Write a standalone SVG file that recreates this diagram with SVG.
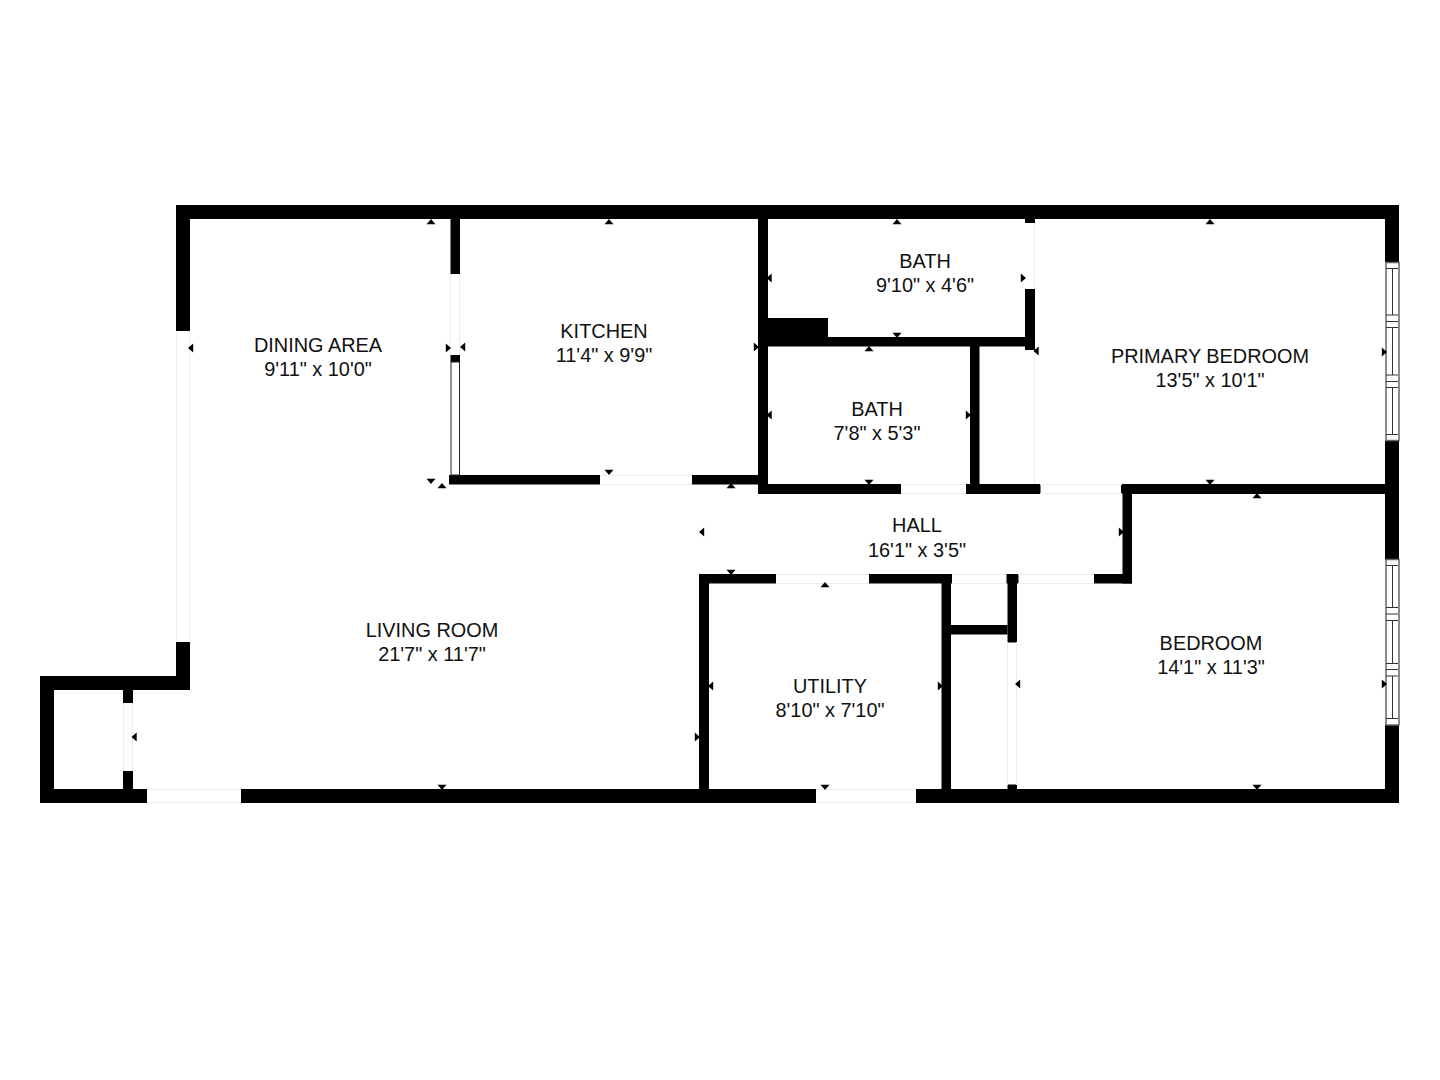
<svg xmlns="http://www.w3.org/2000/svg" width="1440" height="1080" viewBox="0 0 1440 1080">
<style>
.w{fill:#000}
.g{stroke:#ececec;stroke-width:1;fill:none}
.l{fill:#fff;stroke:#222;stroke-width:1}
.t{stroke:#333;stroke-width:1;fill:none}
.f{fill:#fff;stroke:#666;stroke-width:1.500}
text{font-family:"Liberation Sans",Arial,sans-serif;font-size:19.900px;fill:#111;text-anchor:middle}
</style>
<defs>
<polygon id="u" points="-4.500,2.200 4.500,2.200 0,-3" fill="#000"/>
<polygon id="d" points="-4.500,-2.200 4.500,-2.200 0,3" fill="#000"/>
<polygon id="L" points="2.200,-4.500 2.200,4.500 -3,0" fill="#000"/>
<polygon id="R" points="-2.200,-4.500 -2.200,4.500 3,0" fill="#000"/>
</defs>
<rect width="1440" height="1080" fill="#fff"/>
<g id="walls">
<rect class="w" x="176" y="205" width="1223" height="14"/>
<rect class="w" x="176" y="205" width="14" height="126"/>
<rect class="w" x="176" y="642" width="14" height="48"/>
<rect class="w" x="40" y="676" width="150" height="14"/>
<rect class="w" x="40" y="676" width="14" height="127"/>
<rect class="w" x="40" y="789" width="107" height="14"/>
<rect class="w" x="241" y="789" width="575" height="14"/>
<rect class="w" x="916" y="789" width="483" height="14"/>
<rect class="w" x="123" y="690" width="10" height="13"/>
<rect class="w" x="123" y="771" width="10" height="32"/>
<rect class="w" x="1385" y="205" width="14" height="57"/>
<rect class="w" x="1385" y="441" width="14" height="119"/>
<rect class="w" x="1385" y="725" width="14" height="78"/>
<rect class="w" x="450.500" y="219" width="9.500" height="55"/>
<rect class="w" x="450.500" y="355" width="9.500" height="7"/>
<rect class="w" x="449" y="475" width="151" height="9.500"/>
<rect class="w" x="692" y="475" width="68" height="9.500"/>
<rect class="w" x="758" y="219" width="10" height="275"/>
<rect class="w" x="758" y="484" width="143" height="10"/>
<rect class="w" x="966" y="484" width="74.500" height="10"/>
<rect class="w" x="1121" y="484" width="278" height="10"/>
<rect class="w" x="1122.500" y="484" width="9.500" height="99.500"/>
<rect class="w" x="699" y="574" width="77" height="9.500"/>
<rect class="w" x="869" y="574" width="83" height="9.500"/>
<rect class="w" x="1006.500" y="574" width="12" height="9.500"/>
<rect class="w" x="1094" y="574" width="38" height="9.500"/>
<rect class="w" x="699" y="574" width="10" height="229"/>
<rect class="w" x="941.500" y="574" width="9.500" height="229"/>
<rect class="w" x="1007.500" y="574" width="9.500" height="68.500"/>
<rect class="w" x="1007.500" y="784.500" width="9.500" height="18.500"/>
<rect class="w" x="951" y="625" width="56.500" height="9.500"/>
<rect class="w" x="1025" y="219" width="10" height="4"/>
<rect class="w" x="1025" y="289" width="10" height="61"/>
<rect class="w" x="768" y="337" width="267" height="9.500"/>
<rect class="w" x="768" y="318" width="60" height="19"/>
<rect class="w" x="970" y="346" width="9.500" height="146"/>
</g>
<g id="openings">
<path class="g" d="M176.500 331V642M189.500 331V642"/>
<path class="g" d="M147 789.500H241M147 802.500H241"/>
<path class="g" d="M816 789.500H916M816 802.500H916"/>
<path class="g" d="M123.500 703V771M132.500 703V771"/>
<path class="g" d="M450.500 274V355M459.500 274V355"/>
<path class="g" d="M600 475.500H692M600 484.500H692"/>
<path class="g" d="M901 484.500H966M901 493.500H966"/>
<path class="g" d="M1040 484.500H1122M1040 493.500H1122"/>
<path class="g" d="M776 574.500H869M776 583.500H869"/>
<path class="g" d="M952 574.500H1006M952 583.500H1006"/>
<path class="g" d="M1018 574.500H1094M1018 583.500H1094"/>
<path class="g" d="M1007.500 642V785M1016.500 642V785"/>
<path class="g" d="M1034.500 223V289M1034.500 350V484"/>
<rect class="l" x="451" y="362" width="8.500" height="113"/>
</g>
<g id="window-primary">
<rect class="f" x="1386" y="262.500" width="13" height="178"/>
<path class="t" d="M1386 268.500H1398M1386 315H1398M1386 321.500H1398M1386 327.500H1398M1386 375H1398M1386 381.500H1398M1386 387.500H1398M1386 434.500H1398M1392.500 268V315M1392.500 327V375M1392.500 387V434"/>
</g>
<g id="window-bedroom">
<rect class="f" x="1386" y="559.500" width="13" height="165.500"/>
<path class="t" d="M1386 565.500H1398M1386 607.500H1398M1386 614H1398M1386 620.500H1398M1386 663.500H1398M1386 669.500H1398M1386 676H1398M1386 718.500H1398M1392.500 565V607M1392.500 620V663M1392.500 676V718"/>
</g>
<g id="dimension-ticks">
<use href="#u" x="431" y="222"/>
<use href="#u" x="609" y="222"/>
<use href="#u" x="897" y="222"/>
<use href="#u" x="1210" y="222"/>
<use href="#L" x="191" y="348"/>
<use href="#R" x="448" y="348"/>
<use href="#L" x="463" y="347"/>
<use href="#R" x="756" y="347"/>
<use href="#L" x="769.500" y="278"/>
<use href="#R" x="1023" y="278"/>
<use href="#d" x="897" y="335"/>
<use href="#u" x="869" y="349"/>
<use href="#L" x="1036.500" y="351"/>
<use href="#L" x="769.500" y="415"/>
<use href="#R" x="968" y="415"/>
<use href="#d" x="869" y="482"/>
<use href="#d" x="1210" y="482"/>
<use href="#u" x="1257" y="496"/>
<use href="#R" x="1384" y="352"/>
<use href="#R" x="1384" y="684"/>
<use href="#d" x="431" y="481"/>
<use href="#u" x="442" y="486"/>
<use href="#d" x="609" y="472"/>
<use href="#u" x="731" y="486"/>
<use href="#L" x="702" y="532"/>
<use href="#R" x="1121" y="532"/>
<use href="#d" x="731" y="572"/>
<use href="#u" x="825" y="585"/>
<use href="#L" x="711" y="686"/>
<use href="#R" x="940" y="686"/>
<use href="#d" x="825" y="787"/>
<use href="#L" x="1018" y="684"/>
<use href="#d" x="1257" y="787"/>
<use href="#L" x="134.500" y="737"/>
<use href="#R" x="697" y="737"/>
<use href="#d" x="442" y="787"/>
</g>
<g id="labels">
<g id="dining"><text x="318" y="352">DINING AREA</text><text x="318" y="376">9'11" x 10'0"</text></g>
<g id="kitchen"><text x="604" y="338">KITCHEN</text><text x="604" y="362">11'4" x 9'9"</text></g>
<g id="bath1"><text x="925" y="268">BATH</text><text x="925" y="292">9'10" x 4'6"</text></g>
<g id="bath2"><text x="877" y="416">BATH</text><text x="877" y="440">7'8" x 5'3"</text></g>
<g id="primary"><text x="1210" y="363">PRIMARY BEDROOM</text><text x="1210" y="387">13'5" x 10'1"</text></g>
<g id="hall"><text x="917" y="532">HALL</text><text x="917" y="557">16'1" x 3'5"</text></g>
<g id="living"><text x="432" y="637">LIVING ROOM</text><text x="432" y="661">21'7" x 11'7"</text></g>
<g id="utility"><text x="830" y="692.500">UTILITY</text><text x="830" y="717">8'10" x 7'10"</text></g>
<g id="bedroom"><text x="1211" y="649.500">BEDROOM</text><text x="1211" y="674">14'1" x 11'3"</text></g>
</g>
</svg>
